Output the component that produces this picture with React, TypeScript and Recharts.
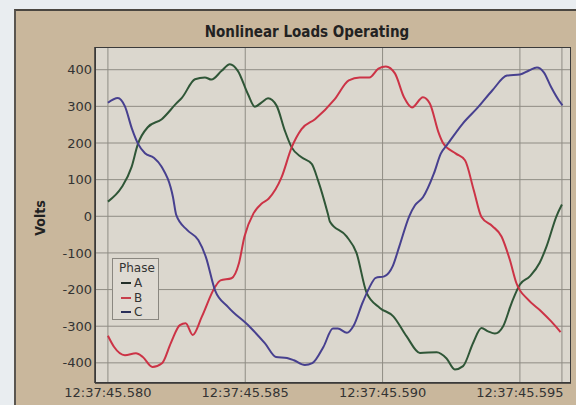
import React from 'react';
import { LineChart, Line, XAxis, YAxis, CartesianGrid, ReferenceLine } from 'recharts';

// time in ms after 12:37:45.580, volts
const phaseA: [number, number][] = [
  [0, 40], [0.5, 79], [0.86, 134], [1.09, 197], [1.45, 243], [1.96, 265], [2.49, 308], [2.7, 324],
  [3.17, 374], [3.53, 379], [3.77, 373], [4.14, 397], [4.44, 415], [4.73, 397], [5.1, 333], [5.35, 299],
  [5.6, 311], [5.83, 322], [6.14, 302], [6.44, 234], [6.69, 188], [7.05, 161], [7.42, 143], [7.65, 98],
  [8.01, 6], [8.08, -14], [8.69, -55], [9.05, -100], [9.42, -209], [9.9, -250], [10.39, -273], [10.87, -327],
  [11.36, -373], [11.97, -371], [12.33, -388], [12.63, -418], [12.93, -409], [13.3, -345], [13.6, -305],
  [13.84, -314], [14.09, -320], [14.39, -300], [14.7, -236], [15.0, -186], [15.36, -164], [15.72, -127],
  [15.97, -82], [16.33, 0], [16.53, 32],
];
const phaseB: [number, number][] = [
  [0, -326], [0.22, -356], [0.62, -379], [1.02, -374], [1.27, -384], [1.62, -411], [1.97, -401], [2.29, -346],
  [2.62, -297], [2.83, -292], [3.09, -324], [3.42, -274], [3.9, -193], [4.1, -175], [4.5, -169], [4.77, -128],
  [4.97, -56], [5.3, 8], [5.6, 35], [5.85, 48], [6.32, 106], [6.69, 188], [7.05, 238], [7.54, 265],
  [8.26, 320], [8.77, 371], [9.17, 379], [9.52, 379], [9.85, 403], [10.12, 409], [10.45, 390],
  [10.78, 325], [11.07, 297], [11.47, 325], [11.72, 308], [12.05, 226], [12.2, 200], [12.67, 171], [13.0, 153],
  [13.32, 71], [13.6, -2], [14.0, -27], [14.33, -55], [14.63, -118], [14.87, -182], [15.29, -227], [15.77, -259],
  [16.14, -287], [16.48, -316],
];
const phaseC: [number, number][] = [
  [0, 310], [0.36, 323], [0.62, 300], [0.87, 240], [1.09, 199], [1.35, 172], [1.67, 160], [1.95, 136],
  [2.37, 52], [2.49, 3], [2.89, -38], [3.29, -65], [3.57, -112], [3.9, -202], [4.37, -247], [5.17, -302],
  [5.72, -347], [6.12, -384], [6.52, -387], [6.77, -393], [7.17, -406], [7.44, -401], [7.85, -356], [8.19, -306],
  [8.37, -306], [8.7, -318], [8.95, -298], [9.27, -236], [9.51, -196], [9.75, -168], [10.06, -164], [10.37, -136],
  [10.61, -82], [10.97, 0], [11.18, 30], [11.47, 52], [11.87, 117], [12.12, 171], [12.34, 194], [12.92, 253],
  [13.47, 297], [14.0, 344], [14.53, 384], [15.0, 387], [15.33, 398], [15.62, 406], [15.87, 393], [16.14, 352],
  [16.42, 316], [16.55, 303],
];

const xTicks = [0, 5, 10, 15];
const xTickLabels = ['12:37:45.580', '12:37:45.585', '12:37:45.590', '12:37:45.595'];
const yTicks = [-400, -300, -200, -100, 0, 100, 200, 300, 400];
const seriesNames = ['A', 'B', 'C'];
const seriesColors = ['#2f5637', '#cc3346', '#47408f'];
const legendColors = ['#24302a', '#c8404c', '#2a2f5a'];

const toRows = (pts: [number, number][]) => pts.map(([t, v]) => ({ t, v }));
const seriesData = [toRows(phaseA), toRows(phaseB), toRows(phaseC)];
const lastT = phaseA[phaseA.length - 1][0];

const FONT = '"DejaVu Sans", sans-serif';
const FONT_C = '"DejaVu Sans Condensed", "DejaVu Sans", sans-serif';

export default function App() {
  return (
    <div style={{ position: 'absolute', left: 0, top: 0, width: 576, height: 405, background: '#e9edf0', overflow: 'hidden', fontFamily: FONT }}>
      <div style={{ position: 'absolute', left: 14, top: 9, width: 562, height: 396, background: '#c9b79c', borderTop: '2px solid #4a4640', borderLeft: '2px solid #5a5650', boxSizing: 'border-box' }} />
      <div style={{ position: 'absolute', left: 0, top: 0 }}>
        <LineChart width={576} height={405} margin={{ top: 47, right: 5, bottom: 0, left: 55 }}>
          <CartesianGrid fill="#dbd7ce" stroke="#8f8c84" strokeWidth={1} horizontalValues={yTicks} verticalValues={xTicks} />
          <XAxis
            dataKey="t"
            type="number"
            domain={[-0.47, 16.86]}
            ticks={xTicks}
            allowDataOverflow
            tickFormatter={(v: number) => xTickLabels[xTicks.indexOf(v)] ?? ''}
            height={22}
            tickSize={0}
            tickMargin={5}
            axisLine={{ stroke: '#333', strokeWidth: 1.5 }}
            tick={{ fill: '#333', fontSize: 13, fontFamily: FONT }}
          />
          <YAxis
            type="number"
            domain={[-455, 462]}
            ticks={yTicks}
            allowDataOverflow
            width={40}
            tickSize={0}
            tickMargin={3}
            axisLine={{ stroke: '#333', strokeWidth: 1.5 }}
            tick={{ fill: '#333', fontSize: 13, fontFamily: FONT }}
          />
          <ReferenceLine x={lastT} stroke="#8f8c84" strokeWidth={1} />
          {seriesData.map((d, i) => (
            <Line
              key={seriesNames[i]}
              data={d}
              dataKey="v"
              name={seriesNames[i]}
              type="monotone"
              stroke={seriesColors[i]}
              strokeWidth={2}
              dot={false}
              isAnimationActive={false}
            />
          ))}
        </LineChart>
      </div>
      <div style={{ position: 'absolute', left: 95, top: 47, width: 476, height: 336, border: '1px solid #3a3a3a', borderLeftWidth: 1.5, borderBottomWidth: 1.5, boxSizing: 'border-box', pointerEvents: 'none' }} />
      <div style={{ position: 'absolute', left: 95, top: 22, width: 424, textAlign: 'center', fontFamily: FONT_C, fontWeight: 'bold', fontSize: 15, color: '#222', lineHeight: '20px' }}>
        Nonlinear Loads Operating
      </div>
      <div style={{ position: 'absolute', left: 40, top: 218, width: 0, height: 0 }}>
        <div style={{ position: 'absolute', left: -40, top: -9, width: 80, textAlign: 'center', transform: 'rotate(-90deg)', fontFamily: FONT_C, fontWeight: 'bold', fontSize: 14, color: '#222', lineHeight: '18px' }}>
          Volts
        </div>
      </div>
      <div style={{ position: 'absolute', left: 112, top: 258, width: 47, height: 62, border: '1px solid #8a8780', background: '#dedad2', boxSizing: 'border-box', fontFamily: FONT, fontSize: 12, color: '#333' }}>
        <div style={{ position: 'absolute', left: 6, top: 2, lineHeight: '14px' }}>Phase</div>
        {seriesNames.map((n, i) => (
          <div key={n} style={{ position: 'absolute', left: 8, top: 17 + i * 14.5, height: 14, lineHeight: '14px', display: 'flex', alignItems: 'center' }}>
            <span style={{ display: 'inline-block', width: 10, height: 2, background: legendColors[i], marginRight: 3 }} />
            <span>{n}</span>
          </div>
        ))}
      </div>
    </div>
  );
}
